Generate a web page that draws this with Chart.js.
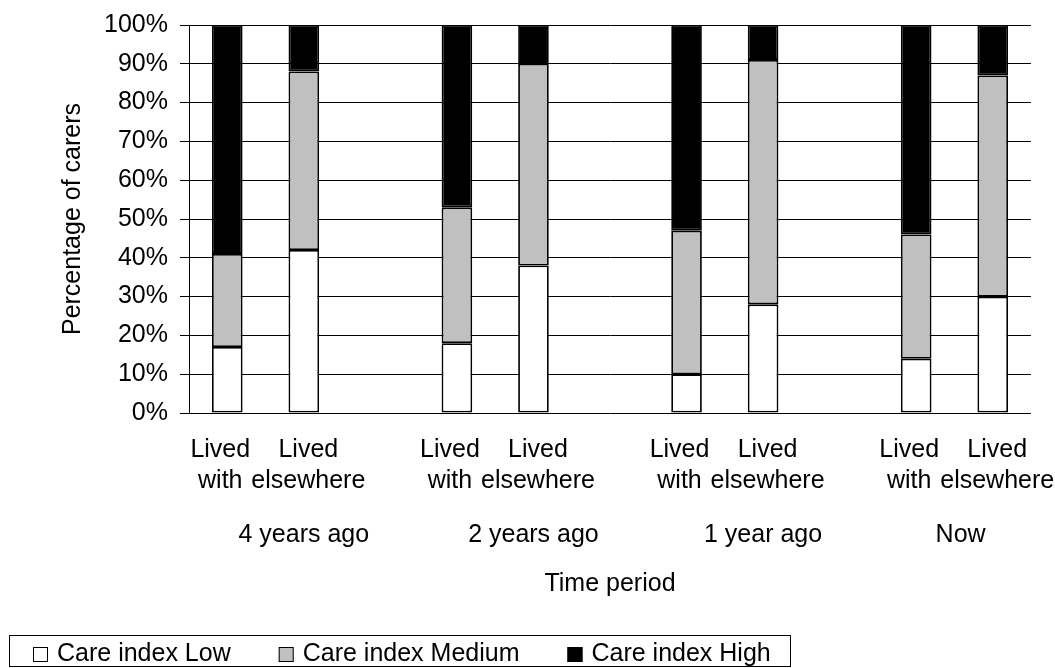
<!DOCTYPE html>
<html>
<head>
<meta charset="utf-8">
<script src="https://cdn.jsdelivr.net/npm/chart.js@4/dist/chart.umd.min.js"></script>
<style>
  html, body { margin: 0; padding: 0; background: #fff; }
  #wrap { width: 1055px; height: 668px; position: relative; }
</style>
</head>
<body>
<div id="wrap"><canvas id="careChart"></canvas></div>
<script>
const categories = [
    ['Lived', 'with'], ['Lived', 'elsewhere'], '',
    ['Lived', 'with'], ['Lived', 'elsewhere'], '',
    ['Lived', 'with'], ['Lived', 'elsewhere'], '',
    ['Lived', 'with'], ['Lived', 'elsewhere']
];
const lowValues = [17, 42, null, 18, 38, null, 10, 28, null, 14, 30];
const mediumValues = [24, 46, null, 35, 52, null, 37, 63, null, 32, 57];
const highValues = [59, 12, null, 47, 10, null, 53, 9, null, 54, 13];

const groupLabels = ['4 years ago', '2 years ago', '1 year ago', 'Now'];
const groupCenters = [1, 4, 7, 9.58];

const yTicks = [0, 10, 20, 30, 40, 50, 60, 70, 80, 90, 100];

const fontFamily = '"Liberation Sans", Arial, Helvetica, sans-serif';
Chart.defaults.font.family = fontFamily;
Chart.defaults.color = '#000';

// Excel pushes the two labels of a pair slightly apart
const pairShift = [-7, 4.5, 0];

// category labels (both levels) drawn from the x scale
const xLabelPlugin = {
    id: 'xLabels',
    afterDraw(chart) {
        const ctx = chart.ctx;
        const x = chart.scales.x;
        const base = chart.chartArea.bottom;
        ctx.save();
        ctx.font = '25px ' + fontFamily;
        ctx.fillStyle = '#000';
        ctx.textAlign = 'center';
        ctx.textBaseline = 'middle';
        categories.forEach((lines, i) => {
            if (!Array.isArray(lines)) return;
            const px = x.getPixelForValue(i) + pairShift[i % 3];
            lines.forEach((line, j) => ctx.fillText(line, px, base + 37 + j * 31));
        });
        groupLabels.forEach((label, i) => {
            ctx.fillText(label, x.getPixelForValue(groupCenters[i]), base + 122);
        });
        ctx.restore();
    }
};

// boxed legend under the chart
const legendBoxPlugin = {
    id: 'legendBox',
    afterDraw(chart) {
        const ctx = chart.ctx;
        ctx.save();
        ctx.strokeStyle = '#000';
        ctx.lineWidth = 1;
        ctx.strokeRect(9.5, 635.5, 781, 31);
        ctx.font = '25px ' + fontFamily;
        ctx.textAlign = 'left';
        ctx.textBaseline = 'middle';
        let cx = 33;
        chart.data.datasets.forEach(ds => {
            ctx.fillStyle = ds.backgroundColor;
            ctx.fillRect(cx, 647, 15, 15);
            ctx.strokeStyle = '#000';
            ctx.strokeRect(cx + 0.5, 647.5, 14, 14);
            ctx.fillStyle = '#000';
            ctx.fillText(ds.label, cx + 24, 654.5);
            cx += 24 + ctx.measureText(ds.label).width + 48;
        });
        ctx.restore();
    }
};

const ctxCare = document.getElementById('careChart').getContext('2d');
new Chart(ctxCare, {
    type: 'bar',
    data: {
        labels: categories,
        datasets: [
            {
                label: 'Care index Low',
                data: lowValues,
                backgroundColor: '#ffffff',
                borderColor: '#000000',
                borderWidth: 1.8,
                borderSkipped: false
            },
            {
                label: 'Care index Medium',
                data: mediumValues,
                backgroundColor: '#c0c0c0',
                borderColor: '#000000',
                borderWidth: 1.8,
                borderSkipped: false
            },
            {
                label: 'Care index High',
                data: highValues,
                backgroundColor: '#000000',
                borderColor: '#000000',
                borderWidth: 1.8,
                borderSkipped: false
            }
        ]
    },
    options: {
        responsive: true,
        maintainAspectRatio: false,
        animation: false,
        layout: { padding: { top: 25, right: 24, bottom: 49, left: 0 } },
        datasets: { bar: { barPercentage: 0.4, categoryPercentage: 1.0 } },
        plugins: {
            tooltip: { enabled: false },
            legend: { display: false }
        },
        scales: {
            x: {
                stacked: true,
                grid: { display: false, drawTicks: false },
                border: { display: false },
                ticks: { display: false },
                afterFit(scale) {
                    scale.height = 206;
                    scale.paddingLeft = 0;
                    scale.paddingRight = 0;
                },
                title: {
                    display: true,
                    text: 'Time period',
                    font: { size: 25 },
                    padding: { top: 0, bottom: 20 }
                }
            },
            y: {
                stacked: true,
                min: 0,
                max: 100,
                afterBuildTicks(scale) {
                    scale.ticks = yTicks.map(v => ({ value: v }));
                },
                afterFit(scale) {
                    scale.width = 189;
                    scale.paddingTop = 0;
                    scale.paddingBottom = 0;
                },
                grid: { color: '#000', lineWidth: 1, tickLength: 9, drawTicks: true },
                border: { display: true, color: '#000', width: 1 },
                ticks: {
                    font: { size: 25 },
                    padding: 12,
                    callback: v => v + '%'
                },
                title: {
                    display: true,
                    text: 'Percentage of carers',
                    font: { size: 25 },
                    padding: { top: 58, bottom: 0 }
                }
            }
        }
    },
    plugins: [xLabelPlugin, legendBoxPlugin]
});
</script>
</body>
</html>
